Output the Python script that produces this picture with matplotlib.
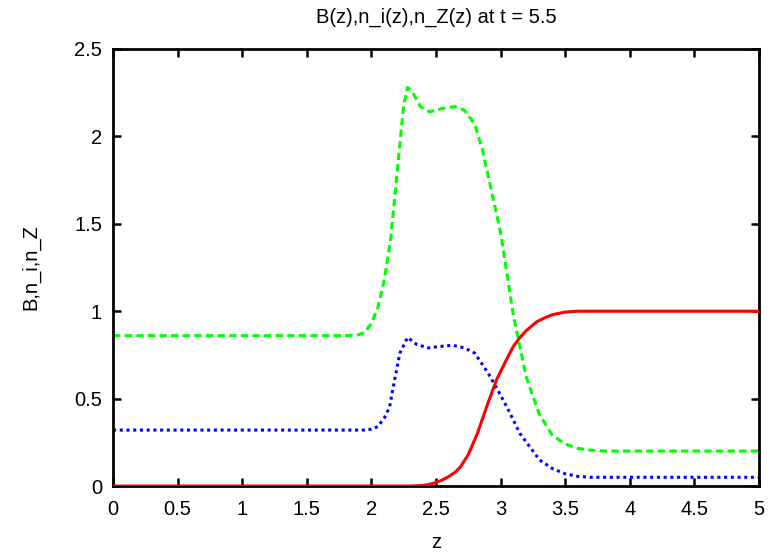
import numpy as np
import matplotlib
matplotlib.use("Agg")
import matplotlib.pyplot as plt

plt.rcParams['font.family'] = ['Liberation Sans', 'DejaVu Sans']

# B(z): magnetic field profile
z_b = [0.0, 2.3, 2.4, 2.45, 2.5, 2.55, 2.6, 2.65, 2.69, 2.75, 2.82, 2.9, 2.97, 3.05, 3.1, 3.15,
       3.2, 3.28, 3.35, 3.4, 3.5, 3.6, 5.0]
b_vals = [0.0, 0.0, 0.003, 0.01, 0.02, 0.035, 0.055, 0.08, 0.11, 0.18, 0.30, 0.47, 0.61, 0.73, 0.80, 0.85,
          0.89, 0.94, 0.965, 0.98, 0.995, 1.0, 1.0]

# n_i(z)
z_ni = [0.0, 1.8, 1.9, 1.95, 2.0, 2.05, 2.1, 2.15, 2.2, 2.25, 2.28, 2.32, 2.38, 2.45, 2.55, 2.65,
        2.72, 2.8, 2.86, 2.92, 3.0, 3.1, 3.2, 3.3, 3.4, 3.5, 3.6, 3.7, 3.8, 5.0]
ni_vals = [0.86, 0.86, 0.865, 0.88, 0.93, 1.02, 1.18, 1.42, 1.80, 2.18, 2.28, 2.25, 2.17, 2.14, 2.16, 2.17,
           2.15, 2.07, 1.92, 1.72, 1.45, 0.97, 0.62, 0.41, 0.29, 0.24, 0.215, 0.205, 0.2, 0.2]

# n_Z(z)
z_nz = [0.0, 1.95, 2.0, 2.05, 2.1, 2.14, 2.17, 2.22, 2.28, 2.35, 2.44, 2.55, 2.63, 2.72, 2.8, 2.9,
        2.97, 3.05, 3.15, 3.3, 3.4, 3.5, 3.6, 3.7, 5.0]
nz_vals = [0.32, 0.32, 0.325, 0.34, 0.39, 0.45, 0.57, 0.76, 0.85, 0.81, 0.79, 0.80, 0.805, 0.79, 0.76, 0.65,
           0.56, 0.45, 0.30, 0.15, 0.10, 0.07, 0.055, 0.05, 0.05]

fig = plt.figure(figsize=(7.7, 5.54), dpi=100)
ax = fig.add_axes([0.1468, 0.1227, 0.8389, 0.7889])

ax.plot(z_b, b_vals, color="#ff0000", lw=2.2, zorder=3)
ax.plot(z_ni, ni_vals, color="#00ff00", lw=2.2, linestyle=(0, (2.4, 1.4)), zorder=2)
ax.plot(z_nz, nz_vals, color="#0000ff", lw=2.2, linestyle=(0, (1.0, 1.2)), zorder=2)

ax.set_xlim(0, 5)
ax.set_ylim(0, 2.5)
ax.set_xticks(np.arange(0, 5.01, 0.5))
ax.set_yticks(np.arange(0, 2.51, 0.5))
ax.set_xticklabels(["0", "0.5", "1", "1.5", "2", "2.5", "3", "3.5", "4", "4.5", "5"])
ax.set_yticklabels(["0", "0.5", "1", "1.5", "2", "2.5"])

for s in ax.spines.values():
    s.set_linewidth(2.0)
ax.tick_params(direction="in", length=6, width=1.8, top=True, right=True,
               labelsize=14.5)
ax.tick_params(axis="x", pad=10)
ax.tick_params(axis="y", pad=8)

ax.set_title("B(z),n_i(z),n_Z(z) at t = 5.5", fontsize=14.5, pad=19)
ax.set_xlabel("z", fontsize=14.5, labelpad=10)
ax.set_ylabel("B,n_i,n_Z", fontsize=14.5, labelpad=24)

fig.savefig("out.png", dpi=100)
